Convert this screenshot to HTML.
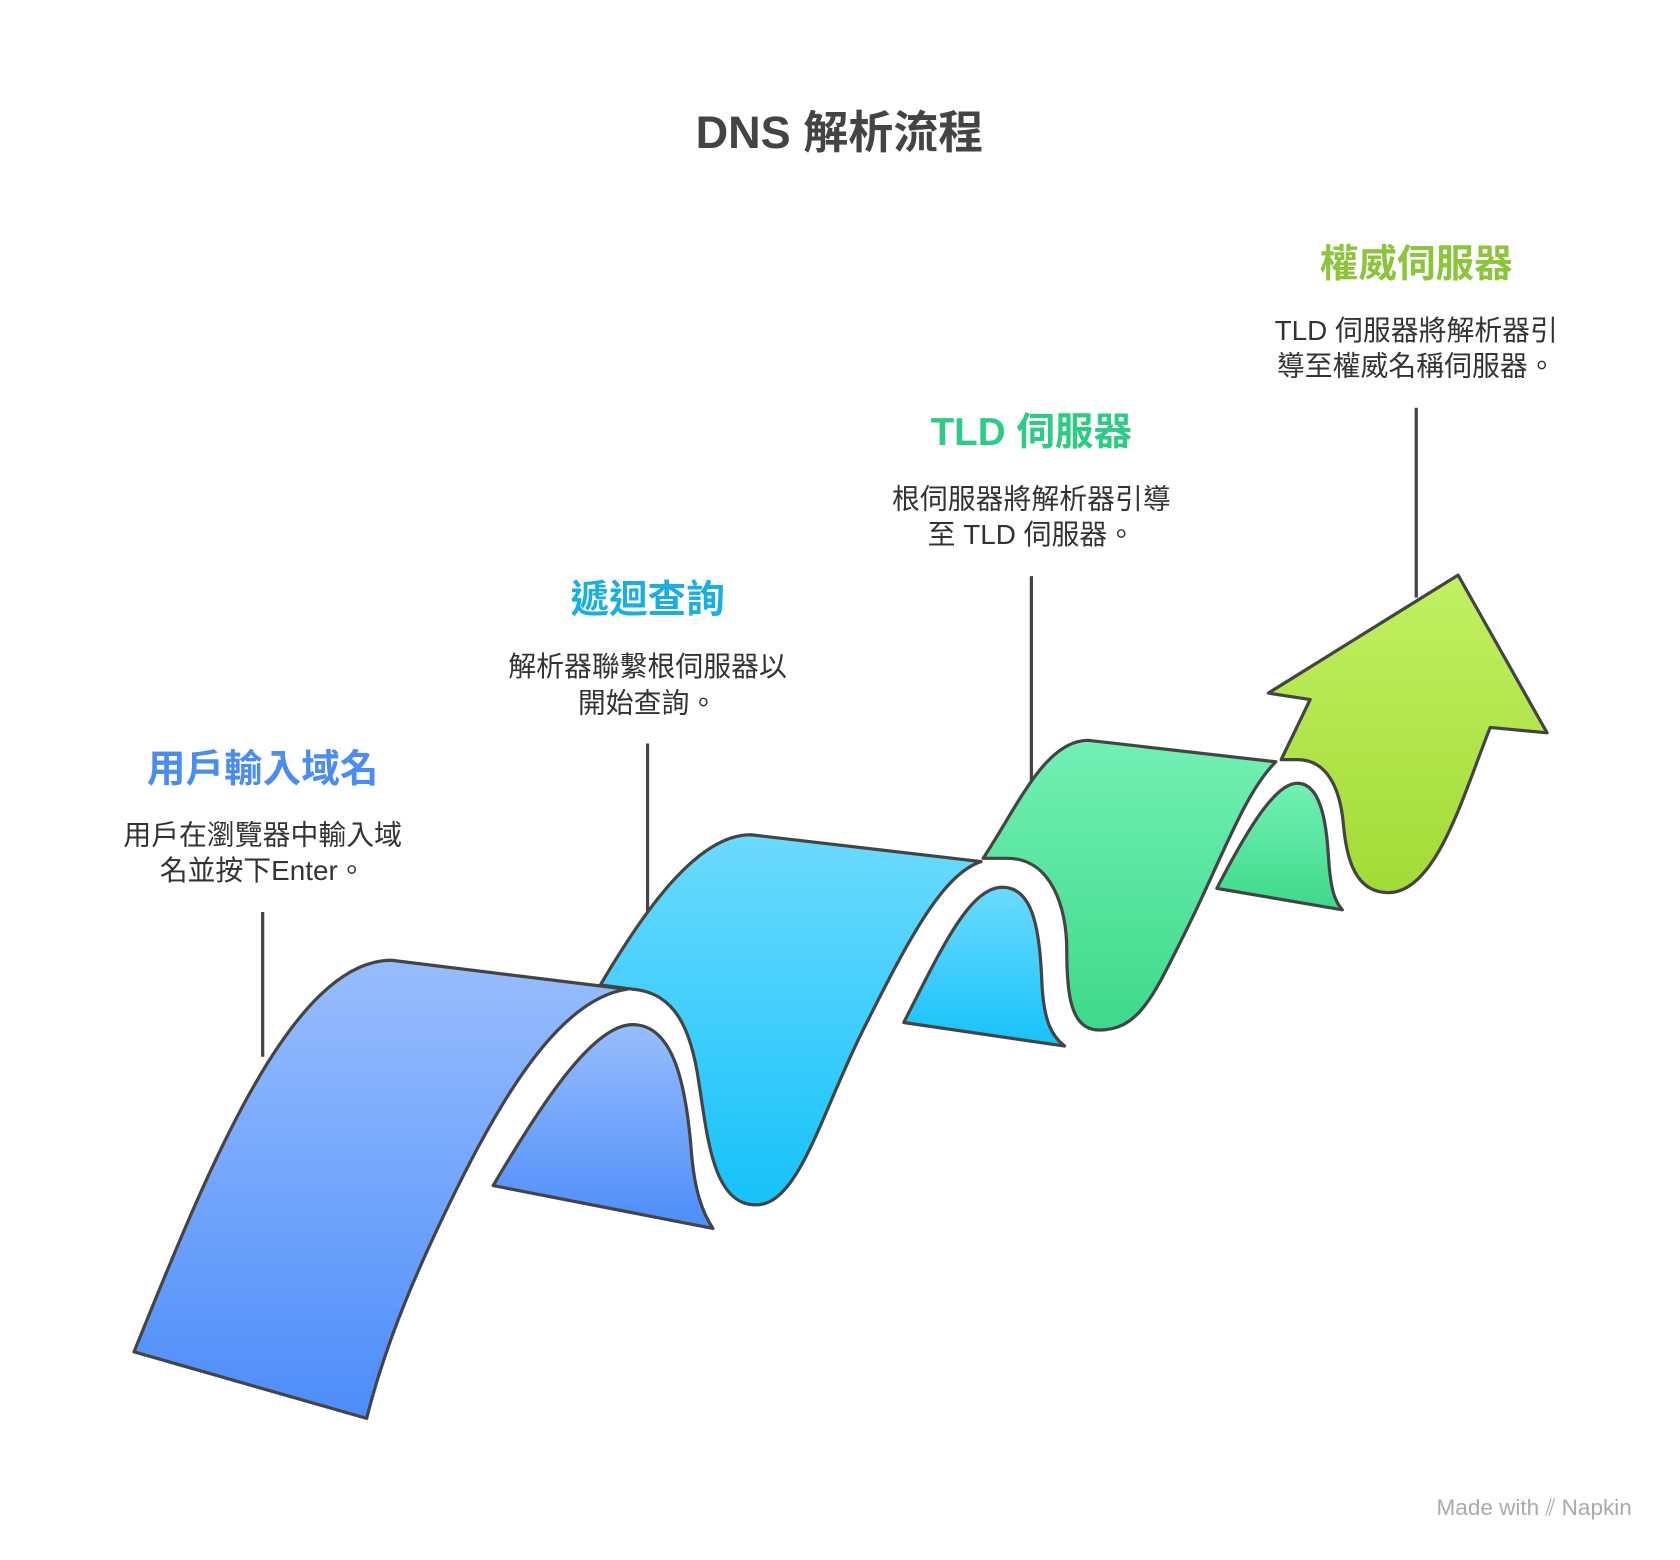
<!DOCTYPE html>
<html><head><meta charset="utf-8"><style>
html,body{margin:0;padding:0;background:#fff;}
svg{display:block;}
text{font-family:"Liberation Sans","Noto Sans CJK TC",sans-serif;}
</style></head><body>
<svg width="1680" height="1560" viewBox="0 0 1567 1454" preserveAspectRatio="none" xmlns="http://www.w3.org/2000/svg">
<defs>
<linearGradient id="gb" x1="0" y1="0" x2="0" y2="1"><stop offset="0" stop-color="#98bdfd"/><stop offset="1" stop-color="#4c8dfa"/></linearGradient>
<linearGradient id="gc" x1="0" y1="0" x2="0" y2="1"><stop offset="0" stop-color="#6bdafd"/><stop offset="1" stop-color="#16c2fa"/></linearGradient>
<linearGradient id="gg" x1="0" y1="0" x2="0" y2="1"><stop offset="0" stop-color="#72f0b3"/><stop offset="1" stop-color="#3ed98b"/></linearGradient>
<linearGradient id="gl" x1="0" y1="0" x2="0" y2="1"><stop offset="0" stop-color="#c2f062"/><stop offset="1" stop-color="#a2db35"/></linearGradient>
</defs>
<text x="783" y="138" text-anchor="middle" font-size="42" font-weight="bold" fill="#444">DNS 解析流程</text>

<g stroke="#444" stroke-width="3" fill="none">
<line x1="245" y1="850" x2="245" y2="985"/>
<line x1="604" y1="693" x2="604" y2="852"/>
<line x1="962" y1="537" x2="962" y2="728"/>
<line x1="1321" y1="380" x2="1321" y2="557"/>
</g>

<g stroke="#444" stroke-width="3" stroke-linejoin="round">
<path fill="url(#gb)" d="M460,1105 C510,1020 555,955 590,955 C628,955 640,1010 645,1075 C648,1110 655,1130 665,1145 Z"/>
<path fill="url(#gb)" d="M125,1260 C190,1100 270,895 365,895 L585,922 C530,930 480,1000 430,1100 C390,1180 360,1250 342,1322 Z"/>
<path fill="url(#gc)" d="M843,953 C880,880 905,827 935,827 C965,827 970,870 972,920 C974,950 980,965 993,975 Z"/>
<path fill="url(#gc)" d="M560,918 C600,850 650,778 700,778 L915,803 C880,815 850,870 805,960 C765,1040 745,1123 705,1123 C665,1123 660,1060 652,1010 C645,960 630,925 590,922 Z"/>
<path fill="url(#gg)" d="M1135,828 C1165,770 1190,730 1210,730 C1238,730 1238,790 1240,810 C1242,830 1245,840 1252,848 Z"/>
<path fill="url(#gg)" d="M917,800 C950,750 975,690 1015,690 L1190,710 C1160,740 1140,800 1105,870 C1075,930 1062,960 1025,960 C998,960 995,925 995,885 C995,845 980,800 940,800 Z"/>
<path fill="url(#gl)" d="M1195,708 L1222,652 L1183,646 L1360,536 L1443,683 L1390,678 C1365,740 1340,832 1295,832 C1260,832 1255,790 1253,768 C1250,735 1238,708 1210,708 Z"/>
</g>

<g text-anchor="middle" font-weight="bold" font-size="36">
<text x="245" y="729" fill="#4a8cf0">用戶輸入域名</text>
<text x="604" y="571" fill="#1aaee2">遞迴查詢</text>
<text x="962" y="415" fill="#2ecb84">TLD 伺服器</text>
<text x="1321" y="258" fill="#8cc43c">權威伺服器</text>
</g>
<g text-anchor="middle" font-size="26" fill="#333">
<text x="245" y="787">用戶在瀏覽器中輸入域</text>
<text x="245" y="820">名並按下Enter。</text>
<text x="604" y="630">解析器聯繫根伺服器以</text>
<text x="604" y="664">開始查詢。</text>
<text x="962" y="474">根伺服器將解析器引導</text>
<text x="962" y="507">至 TLD 伺服器。</text>
<text x="1321" y="317">TLD 伺服器將解析器引</text>
<text x="1321" y="350">導至權威名稱伺服器。</text>
</g>
<text x="1522" y="1412" text-anchor="end" font-size="21" fill="#aaa">Made with ⫽ Napkin</text>
</svg>
</body></html>
